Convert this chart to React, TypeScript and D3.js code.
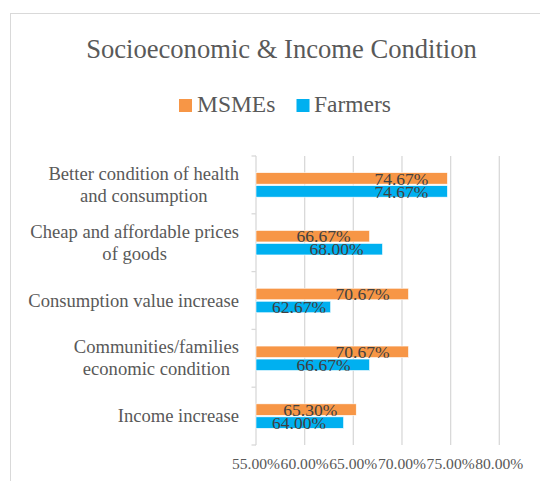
import React from "react";
import * as d3 from "d3";

const categories: string[][] = [
  ["Better condition of health", "and consumption"],
  ["Cheap and affordable prices", "of goods"],
  ["Consumption value increase"],
  ["Communities/families", "economic condition"],
  ["Income increase"],
];
const seriesNames = ["MSMEs", "Farmers"];
const msmes = [0.7467, 0.6667, 0.7067, 0.7067, 0.653];
const farmers = [0.7467, 0.68, 0.6267, 0.6667, 0.64];
const xTicks = [0.55, 0.6, 0.65, 0.7, 0.75, 0.8];
const colors = ["#F79646", "#00B0F0"];

const FONT = '"Liberation Serif", Tinos, "Times New Roman", serif';

let ctx: CanvasRenderingContext2D | null = null;
function measure(text: string, size: number): number {
  if (!ctx) ctx = document.createElement("canvas").getContext("2d");
  if (!ctx) return text.length * size * 0.45;
  ctx.font = `${size}px ${FONT}`;
  return ctx.measureText(text).width;
}

export default function App() {
  const W = 540,
    H = 481;
  const x = d3.scaleLinear().domain([0.55, 0.8]).range([256, 499.3]);
  const keys = categories.map((c) => c.join(" "));
  const y = d3.scaleBand<string>().domain(keys).range([156, 445]).padding(0);
  const fmt = d3.format(".2%");
  const series = [msmes, farmers];
  const barH = 11.5;
  const gap = 1.5;
  const catSize = 18.6;
  const tStyle = (size: number, fill: string): React.CSSProperties => ({
    fontFamily: FONT,
    fontSize: size,
    fill,
  });

  return (
    <div style={{ position: "absolute", left: 0, top: 0 }}>
      <svg width={W} height={H} style={{ display: "block", background: "#fff" }}>
        <rect x={10.5} y={13.5} width={700} height={700} fill="#fff" stroke="#D9D9D9" strokeWidth={1} />
        <text x={281.5} y={58} textAnchor="middle" style={tStyle(26.6, "#595959")}>
          Socioeconomic &amp; Income Condition
        </text>
        {/* legend */}
        <rect x={179} y={99} width={13} height={13} fill={colors[0]} />
        <text x={197} y={112} style={tStyle(23.5, "#595959")}>{seriesNames[0]}</text>
        <rect x={296.5} y={99} width={13} height={13} fill={colors[1]} />
        <text x={314} y={112} style={tStyle(23.5, "#595959")}>{seriesNames[1]}</text>
        {/* gridlines */}
        {xTicks.slice(1).map((t) => (
          <line key={t} x1={x(t)} x2={x(t)} y1={156} y2={445} stroke="#D9D9D9" strokeWidth={1.3} />
        ))}
        {/* left axis */}
        <line x1={256} x2={256} y1={156} y2={445} stroke="#D9D9D9" strokeWidth={1.3} />
        {keys.map((k) => (
          <line key={"t" + k} x1={251.5} x2={256} y1={y(k)!} y2={y(k)!} stroke="#D9D9D9" strokeWidth={1.3} />
        ))}
        <line x1={251.5} x2={256} y1={445} y2={445} stroke="#D9D9D9" strokeWidth={1.3} />
        {/* bars */}
        {keys.map((k, i) => {
          const c = y(k)! + y.bandwidth() / 2;
          return (
            <g key={"b" + k}>
              {series.map((s, j) => {
                const by = j === 0 ? c - gap / 2 - barH : c + gap / 2;
                const end = x(s[i]);
                const labelEnd = Math.max(end - 19, 326);
                return (
                  <g key={j}>
                    <rect x={x(0.55)} y={by} width={end - x(0.55)} height={barH} fill={colors[j]} stroke="#fff" strokeWidth={0.6} />
                    <text x={labelEnd} y={by + barH / 2 + 6.2} textAnchor="end" style={tStyle(17.5, "#404040")}>
                      {fmt(s[i])}
                    </text>
                  </g>
                );
              })}
            </g>
          );
        })}
        {/* category labels */}
        {categories.map((lines, i) => {
          const c = y(keys[i])! + y.bandwidth() / 2;
          const lh = 21.7;
          const start = c - ((lines.length - 1) * lh) / 2;
          const wMax = Math.max(...lines.map((l) => measure(l, catSize)));
          const cx = 239 - wMax / 2;
          return (
            <text key={"c" + i} textAnchor="middle" style={tStyle(catSize, "#595959")}>
              {lines.map((l, li) => (
                <tspan key={li} x={cx} y={start + li * lh + 6}>
                  {l}
                </tspan>
              ))}
            </text>
          );
        })}
        {/* x tick labels */}
        {xTicks.map((t) => (
          <text key={"x" + t} x={x(t)} y={469} textAnchor="middle" style={tStyle(15.6, "#595959")}>
            {fmt(t)}
          </text>
        ))}
      </svg>
    </div>
  );
}
